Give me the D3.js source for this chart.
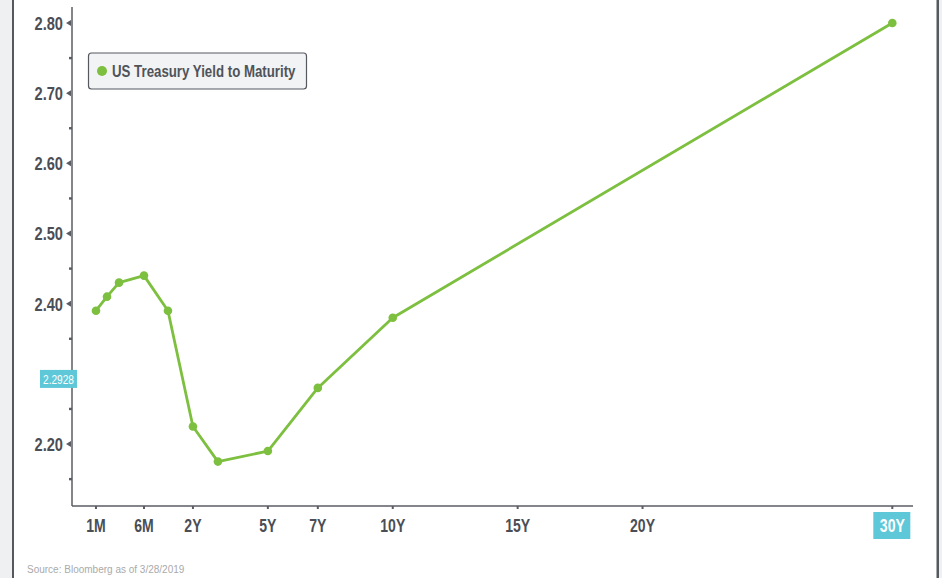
<!DOCTYPE html>
<html>
<head>
<meta charset="utf-8">
<script src="https://cdn.jsdelivr.net/npm/d3@7"></script>
<style>
  html, body { margin: 0; padding: 0; background: #ffffff; }
  svg { display: block; }
</style>
</head>
<body>
<svg id="chart" width="942" height="578"></svg>
<script>
// ---- data ----
const maturities = ["1M", "2M", "3M", "6M", "1Y", "2Y", "3Y", "5Y", "7Y", "10Y", "30Y"];
const maturityYears = [1/12, 2/12, 3/12, 6/12, 1, 2, 3, 5, 7, 10, 30];
const yields = [2.39, 2.41, 2.43, 2.44, 2.39, 2.225, 2.175, 2.19, 2.28, 2.38, 2.80];
const xTickLabels = ["1M", "6M", "2Y", "5Y", "7Y", "10Y", "15Y", "20Y", "30Y"];
const xTickYears = [1/12, 6/12, 2, 5, 7, 10, 15, 20, 30];
const yTickValues = [2.20, 2.30, 2.40, 2.50, 2.60, 2.70, 2.80];
const yMinorTicks = [2.15, 2.25, 2.35, 2.45, 2.55, 2.65, 2.75];
const markerValue = 2.2928;
const highlightTick = "30Y";
const seriesName = "US Treasury Yield to Maturity";
const sourceNote = "Source: Bloomberg as of 3/28/2019";

// ---- layout ----
const W = 942, H = 578;
const plot = { left: 72, right: 913, top: 7, bottom: 506 };
const pw = plot.right - plot.left;
const green = "#7dbf3f";
const axisCol = "#5a5d63";
const textCol = "#4b4e55";
const cyan = "#5ec8d8";
const font = "'Liberation Sans', Arial, sans-serif";

const svg = d3.select("#chart");

// condensed text helper (horizontal squeeze of a real text node)
function ctext(g, px, py, str, o) {
  return g.append("text")
    .attr("transform", `translate(${px},${py}) scale(${o.sx},1)`)
    .attr("text-anchor", o.anchor || "start")
    .attr("dy", o.dy || "0")
    .attr("font-family", font)
    .attr("font-weight", o.weight || "bold")
    .attr("font-size", o.size)
    .attr("fill", o.fill)
    .text(str);
}

// frame
svg.append("rect").attr("x", 0).attr("y", 0).attr("width", W).attr("height", H).attr("fill", "#ffffff");
svg.append("rect").attr("x", 0).attr("y", 0).attr("width", 13).attr("height", H).attr("fill", "#eef0f2");
svg.append("rect").attr("x", 12).attr("y", 0).attr("width", 2).attr("height", H).attr("fill", "#55585e");
svg.append("rect").attr("x", 939).attr("y", 0).attr("width", 3).attr("height", H).attr("fill", "#eef0f2");
svg.append("rect").attr("x", 936.5).attr("y", 0).attr("width", 2.5).attr("height", H).attr("fill", "#55585e");

// scales: piecewise (stretched short end), linear in years beyond 1Y
const x = d3.scaleLinear()
  .domain([1/12, 2/12, 3/12, 6/12, 1, 30])
  .range([0.0285, 0.0416, 0.0559, 0.0856, 0.1141, 0.9754].map(f => plot.left + f * pw));
const y = d3.scaleLinear().domain([2.1117, 2.8228]).range([plot.bottom, plot.top]);

// y axis
svg.append("line").attr("x1", plot.left).attr("x2", plot.left)
  .attr("y1", plot.top).attr("y2", plot.bottom)
  .attr("stroke", axisCol).attr("stroke-width", 1.5);
// x axis
svg.append("line").attr("x1", plot.left).attr("x2", plot.right)
  .attr("y1", plot.bottom).attr("y2", plot.bottom)
  .attr("stroke", axisCol).attr("stroke-width", 1.5);

// y major ticks (triangles) + labels
const yt = svg.append("g");
yTickValues.forEach(v => {
  const yy = y(v);
  yt.append("path")
    .attr("d", `M${plot.left - 6},${yy} L${plot.left - 1},${yy - 3} L${plot.left - 1},${yy + 3} Z`)
    .attr("fill", axisCol);
  // the value under the cross-hair marker is hidden by its label
  if (Math.abs(v - markerValue) > 0.02) {
    ctext(yt, plot.left - 9, yy, v.toFixed(2),
      { sx: 0.77, size: 19, fill: textCol, anchor: "end", dy: "0.36em" });
  }
});
yMinorTicks.forEach(v => {
  yt.append("rect").attr("x", plot.left - 3).attr("y", y(v) - 1.2)
    .attr("width", 3).attr("height", 2.4).attr("fill", axisCol);
});

// x ticks + labels
const xt = svg.append("g");
xTickYears.forEach((yr, i) => {
  const xx = x(yr);
  xt.append("rect").attr("x", xx - 1).attr("y", plot.bottom).attr("width", 2).attr("height", 3).attr("fill", axisCol);
  const lbl = xTickLabels[i];
  if (lbl === highlightTick) {
    xt.append("rect").attr("x", xx - 19).attr("y", plot.bottom + 6)
      .attr("width", 37).attr("height", 27).attr("fill", cyan);
  }
  ctext(xt, xx, plot.bottom + 25.5, lbl,
    { sx: 0.74, size: 19, fill: lbl === highlightTick ? "#ffffff" : textCol, anchor: "middle" });
});

// line + points
const pts = maturityYears.map((m, i) => [m, yields[i]]);
svg.append("path")
  .datum(pts)
  .attr("fill", "none")
  .attr("stroke", green)
  .attr("stroke-width", 2.8)
  .attr("stroke-linejoin", "round")
  .attr("d", d3.line().x(d => x(d[0])).y(d => y(d[1])));
svg.append("g").selectAll("circle").data(pts).join("circle")
  .attr("cx", d => x(d[0])).attr("cy", d => y(d[1]))
  .attr("r", 4.3).attr("fill", green);

// marker label on y axis
const my = y(markerValue);
svg.append("rect").attr("x", 40).attr("y", my - 9).attr("width", 37).attr("height", 18).attr("fill", cyan);
ctext(svg, 58.5, my, String(markerValue),
  { sx: 0.78, size: 13, fill: "#ffffff", anchor: "middle", dy: "0.36em", weight: "normal" });

// legend
const lg = svg.append("g");
lg.append("rect").attr("x", 88.5).attr("y", 53).attr("width", 218).attr("height", 36)
  .attr("rx", 3).attr("fill", "#f1f3f4").attr("stroke", "#55585e").attr("stroke-width", 1.2);
lg.append("circle").attr("cx", 102).attr("cy", 71).attr("r", 5).attr("fill", green);
ctext(lg, 112, 71, seriesName,
  { sx: 0.79, size: 16.8, fill: "#50535a", dy: "0.36em" });

// source
svg.append("text").attr("x", 27).attr("y", 573)
  .attr("font-family", font)
  .attr("font-size", 10).attr("fill", "#aaaaaa")
  .text(sourceNote);
</script>
</body>
</html>
